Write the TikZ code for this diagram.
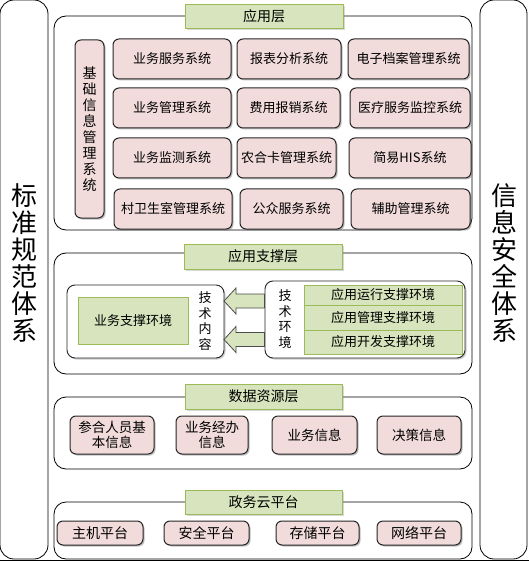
\documentclass[tikz,border=0pt]{standalone}
\usepackage{fontspec}
\newfontfamily\cjk{Noto Sans CJK SC}
\usetikzlibrary{shadows}
\definecolor{pinkfill}{HTML}{F2DCDB}
\definecolor{greenfill}{HTML}{D7E4BD}
\definecolor{greenline}{HTML}{9BBB59}
\tikzset{
  every node/.style={font=\cjk\fontsize{13}{15}\selectfont, inner sep=0pt, outer sep=0pt},
  colbox/.style={draw=black, line width=0.8pt, rounded corners=14pt, fill=white},
  coltext/.style={font=\cjk\fontsize{26}{27}\selectfont, align=center},
  layerbox/.style={draw=black, line width=0.8pt, rounded corners=12pt, fill=white},
  titlebox/.style={draw=greenline, fill=greenfill, line width=0.6pt,
    drop shadow={shadow xshift=2pt, shadow yshift=-2pt, opacity=0.3},
    font=\cjk\fontsize{14}{16}\selectfont},
  sysbox/.style={draw=black!85, fill=pinkfill, line width=1pt, rounded corners=6pt,
    drop shadow={shadow xshift=1.5pt, shadow yshift=-1.5pt, opacity=0.5}, align=center},
  innerbox/.style={draw=black!85, fill=white, line width=0.9pt, rounded corners=8pt,
    drop shadow={shadow xshift=1.5pt, shadow yshift=-1.5pt, opacity=0.4}},
  greenbox/.style={draw=greenline, fill=greenfill, line width=0.6pt},
  vtext/.style={align=center, font=\cjk\fontsize{13}{15.5}\selectfont},
  blockarrow/.style={draw=black!70, fill=greenfill, line width=0.8pt, line join=miter},
}
\begin{document}
\begin{tikzpicture}[x=1pt, y=-1pt]
\useasboundingbox (0,0) rectangle (529,561);
\draw[black, line width=0.8pt] (0,560) -- (529,560);

% side columns
\node[colbox, minimum width=48pt, minimum height=559pt] (lcol) at (24,279.5) {};
\node[coltext] (ltxt) at (24,263) {标\\准\\规\\范\\体\\系};
\node[colbox, minimum width=47pt, minimum height=559pt] (rcol) at (503.5,279.5) {};
\node[coltext] (rtxt) at (504,263) {信\\息\\安\\全\\体\\系};

% application layer
\node[layerbox, minimum width=418pt, minimum height=214pt] (app) at (263,123) {};
\node[titlebox, minimum width=158pt, minimum height=24pt] (appt) at (264,16) {应用层};
\node[sysbox, minimum width=29pt, minimum height=178pt, font=\cjk\fontsize{14}{16}\selectfont] (basic) at (89.5,129) {基\\础\\信\\息\\管\\理\\系\\统};

\node[sysbox, minimum width=118pt, minimum height=40pt] (s11) at (172,59) {业务服务系统};
\node[sysbox, minimum width=104pt, minimum height=40pt] (s12) at (289,59) {报表分析系统};
\node[sysbox, minimum width=121pt, minimum height=40pt] (s13) at (408.5,59) {电子档案管理系统};

\node[sysbox, minimum width=118pt, minimum height=40pt] (s21) at (172,108) {业务管理系统};
\node[sysbox, minimum width=103pt, minimum height=40pt] (s22) at (288.5,108) {费用报销系统};
\node[sysbox, minimum width=120pt, minimum height=40pt] (s23) at (410,108) {医疗服务监控系统};

\node[sysbox, minimum width=118pt, minimum height=40pt] (s31) at (172,158) {业务监测系统};
\node[sysbox, minimum width=99pt, minimum height=40pt] (s32) at (286.5,158) {农合卡管理系统};
\node[sysbox, minimum width=122pt, minimum height=40pt] (s33) at (410,158) {简易HIS系统};

\node[sysbox, minimum width=118pt, minimum height=40pt] (s41) at (173,209) {村卫生室管理系统};
\node[sysbox, minimum width=103pt, minimum height=40pt] (s42) at (291.5,209) {公众服务系统};
\node[sysbox, minimum width=119pt, minimum height=40pt] (s43) at (410.5,209) {辅助管理系统};

% application support layer
\node[layerbox, minimum width=418pt, minimum height=121pt] (sup) at (263,313.5) {};
\node[titlebox, minimum width=158pt, minimum height=25pt] (supt) at (263,256.5) {应用支撑层};
\node[innerbox, minimum width=157pt, minimum height=73pt] (lin) at (145.5,321.5) {};
\node[greenbox, minimum width=110pt, minimum height=47pt] (bse) at (133,320.5) {业务支撑环境};
\node[vtext] (tc) at (205,321) {技\\术\\内\\容};
\node[innerbox, minimum width=200pt, minimum height=77pt] (rin) at (365,319.5) {};
\node[vtext] (te) at (285,319) {技\\术\\环\\境};
\node[greenbox, minimum width=158pt, minimum height=20pt] (e1) at (383,295) {应用运行支撑环境};
\node[greenbox, minimum width=158pt, minimum height=25pt] (e2) at (383,317.5) {应用管理支撑环境};
\node[greenbox, minimum width=158pt, minimum height=24pt] (e3) at (383,342) {应用开发支撑环境};

\coordinate (a1) at (lin.east |- 0,301);
\coordinate (a2) at (lin.east |- 0,339.5);
\draw[blockarrow] (a1) -- ++(12,-13) -- ++(0,6) -- ++(28.5,0) -- ++(0,14) -- ++(-28.5,0) -- ++(0,6) -- cycle;
\draw[blockarrow] (a2) -- ++(12,-13) -- ++(0,6) -- ++(28.5,0) -- ++(0,14) -- ++(-28.5,0) -- ++(0,6) -- cycle;

% data resource layer
\node[layerbox, minimum width=418pt, minimum height=72pt] (data) at (263,433) {};
\node[titlebox, minimum width=157pt, minimum height=25pt] (datat) at (263.5,396.5) {数据资源层};
\node[sysbox, minimum width=84pt, minimum height=38pt, font=\cjk\fontsize{13.5}{15}\selectfont] (d1) at (112,435) {参合人员基\\本信息};
\node[sysbox, minimum width=72pt, minimum height=38pt, font=\cjk\fontsize{13.5}{15}\selectfont] (d2) at (212,435) {业务经办\\信息};
\node[sysbox, minimum width=85pt, minimum height=38pt, font=\cjk\fontsize{13.5}{15}\selectfont] (d3) at (314.5,435) {业务信息};
\node[sysbox, minimum width=84pt, minimum height=38pt, font=\cjk\fontsize{13.5}{15}\selectfont] (d4) at (419,435) {决策信息};

% government cloud platform
\node[layerbox, minimum width=418pt, minimum height=57pt] (cloud) at (263,530.5) {};
\node[titlebox, minimum width=157pt, minimum height=24pt] (cloudt) at (263.5,502) {政务云平台};
\node[sysbox, minimum width=86pt, minimum height=24pt, font=\cjk\fontsize{14}{16}\selectfont] (p1) at (100,533) {主机平台};
\node[sysbox, minimum width=85pt, minimum height=24pt, font=\cjk\fontsize{14}{16}\selectfont] (p2) at (206.5,533) {安全平台};
\node[sysbox, minimum width=83pt, minimum height=24pt, font=\cjk\fontsize{14}{16}\selectfont] (p3) at (317.5,533) {存储平台};
\node[sysbox, minimum width=84pt, minimum height=24pt, font=\cjk\fontsize{14}{16}\selectfont] (p4) at (419,533) {网络平台};
\end{tikzpicture}
\end{document}
